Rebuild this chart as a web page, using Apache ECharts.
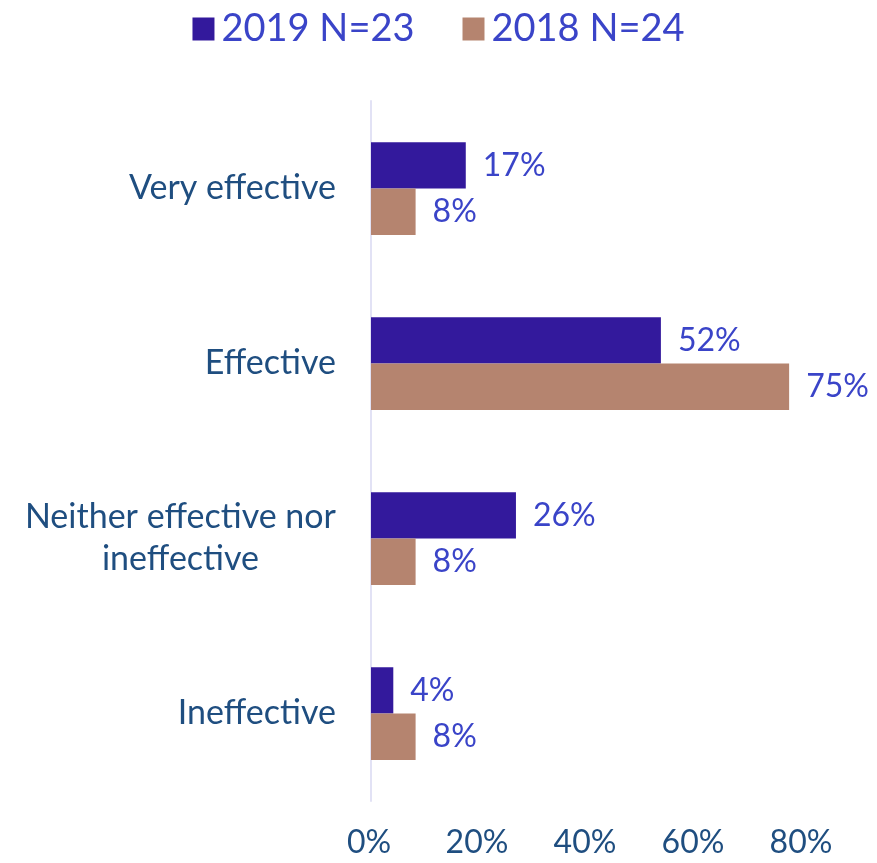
<!DOCTYPE html>
<html>
<head>
<meta charset="utf-8">
<script src="https://cdn.jsdelivr.net/npm/echarts@6/dist/echarts.min.js"></script>
<style>html,body{margin:0;padding:0;background:#fff}#c{width:877px;height:863px}</style>
</head>
<body>
<div id="c"></div>
<script>
const categories = ['Very effective', 'Effective', 'Neither effective nor\nineffective', 'Ineffective'];
const seriesNames = ['2019 N=23', '2018 N=24'];
const values2019 = [17, 52, 26, 4];
const values2018 = [8, 75, 8, 8];
const tickValues = [0, 20, 40, 60, 80];

const FONT = 'Lato';
const chart = echarts.init(document.getElementById('c'), null, {renderer: 'canvas'});
chart.setOption({
  animation: false,
  textStyle: {fontFamily: FONT},
  legend: {
    top: 5, left: 'center',
    itemWidth: 22, itemHeight: 23, itemGap: 48,
    icon: 'rect',
    textStyle: {fontSize: 38, color: '#3a44c8', fontFamily: FONT, padding: [0, 0, 0, 2]},
    data: seriesNames
  },
  grid: [
    {left: 371, right: 60, top: 101, bottom: 62, containLabel: false},
    {left: 369, right: 76, top: 101, bottom: 62, containLabel: false}
  ],
  xAxis: [
    {type: 'value', gridIndex: 0, min: 0, max: 80, interval: 20,
     axisLine: {show: false}, axisTick: {show: false}, splitLine: {show: false},
     axisLabel: {show: false}},
    {type: 'value', gridIndex: 1, min: tickValues[0], max: tickValues[tickValues.length - 1], interval: 20,
     axisLine: {show: false}, axisTick: {show: false}, splitLine: {show: false},
     axisLabel: {show: true, margin: 26, fontSize: 32, color: '#1f4e80', fontFamily: FONT, formatter: '{value}%'}}
  ],
  yAxis: [
    {type: 'category', gridIndex: 0, data: categories, inverse: true,
     axisLine: {show: true, lineStyle: {color: '#e2e2f5', width: 2}},
     axisTick: {show: false},
     axisLabel: {
       margin: 35, fontSize: 34, color: '#1f4e80', fontFamily: FONT, lineHeight: 42,
       formatter: function (v) {
         return v.split('\n').map(function (s) { return '{c|' + s + '}'; }).join('\n');
       },
       rich: {c: {align: 'center', fontSize: 34, color: '#1f4e80', fontFamily: FONT, lineHeight: 42}}
     }},
    {type: 'category', gridIndex: 1, data: categories, inverse: true, show: false}
  ],
  series: [
    {name: seriesNames[0], type: 'bar', xAxisIndex: 0, yAxisIndex: 0, data: values2019,
     barGap: '0%', barCategoryGap: '47%',
     itemStyle: {color: '#33199c'},
     label: {show: true, position: 'right', distance: 17, fontSize: 32, color: '#3a44c8', fontFamily: FONT, formatter: '{c}%'}},
    {name: seriesNames[1], type: 'bar', xAxisIndex: 0, yAxisIndex: 0, data: values2018,
     barGap: '0%', barCategoryGap: '47%',
     itemStyle: {color: '#b5846f'},
     label: {show: true, position: 'right', distance: 17, fontSize: 32, color: '#3a44c8', fontFamily: FONT, formatter: '{c}%'}}
  ]
});
</script>
</body>
</html>
